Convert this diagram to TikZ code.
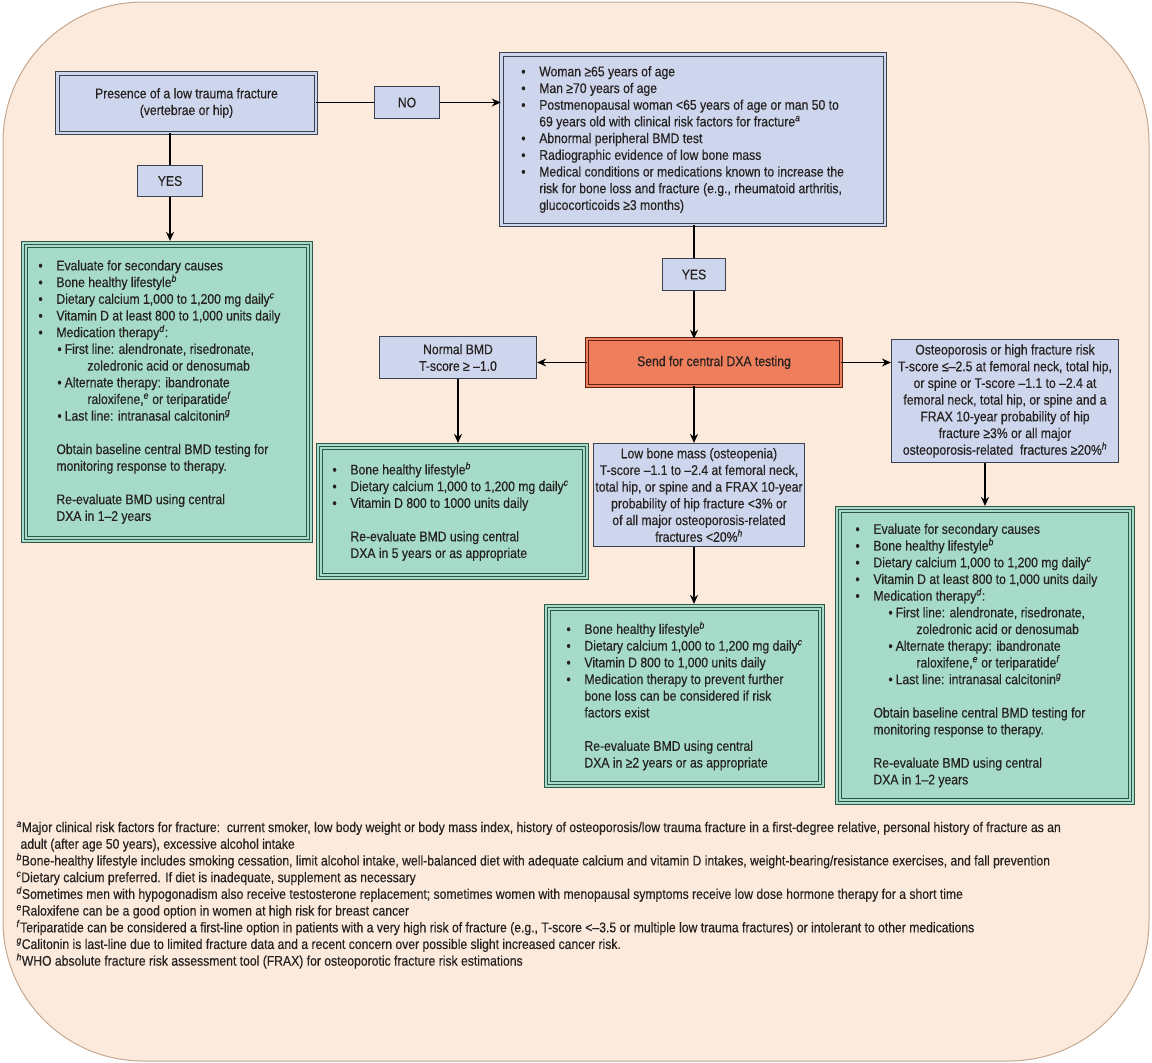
\documentclass[tikz,border=0pt]{standalone}
\usepackage{fontspec}
\setmainfont{Liberation Sans}[FakeStretch=0.87,FakeBold=0.4]
\usepackage{tikz}
\usetikzlibrary{arrows.meta}
\usetikzlibrary{positioning}
\definecolor{bgpeach}{HTML}{FCEADC}
\definecolor{bgline}{HTML}{C4A78E}
\definecolor{lavfill}{HTML}{CED6EE}
\definecolor{lavline}{HTML}{3C4150}
\definecolor{grnfill}{HTML}{A5DBC8}
\definecolor{grnline}{HTML}{2F5546}
\definecolor{dxafill}{HTML}{EF7E5C}
\definecolor{dxaline}{HTML}{5B2216}
\definecolor{ink}{HTML}{262220}
\newcommand \bul {\makebox[18pt][l]{\textbullet}}
\newcommand \ind {\hspace*{18pt}}
\newcommand \fn[1] {\textsuperscript{\textit{#1}}}
\tikzstyle{lav}=[rectangle,draw=lavline,fill=lavfill,inner sep=0mm,line width=1.2pt,align=center]
\tikzstyle{lavdbl}=[lav,double=lavfill,double distance=2.5pt,line width=1pt]
\tikzstyle{dxa}=[rectangle,draw=dxaline,fill=dxafill,inner sep=0mm,double=dxafill,double distance=2pt,line width=1pt,align=center]
\tikzstyle{grn}=[rectangle,draw=grnline,fill=grnfill,inner sep=0mm,line width=1.2pt]
\tikzstyle{grnin}=[draw=grnline,double=grnfill,double distance=1.6pt,line width=0.9pt]
\tikzstyle{txt}=[inner sep=0mm,align=left,anchor=west]
\tikzstyle{fnt}=[inner sep=0mm,align=left,anchor=north west,font=\fontsize{14}{16.7}\selectfont]
\tikzset{every picture/.style={
    line width=1.1pt
  },
  every node/.style={text=ink,font=\fontsize{14}{16.7}\selectfont},
  >={Stealth[length=9pt,width=8pt,inset=3pt]}
}

\begin{document}
\begin{tikzpicture}[x=1pt,y=-1pt]
      \useasboundingbox (0,0) rectangle (1152,1063);
      \draw[draw=bgline,fill=bgpeach,line width=1pt,rounded corners=140pt] (3,2) rectangle (1149,1061);
      % top row
      \node[lavdbl,minimum width=258.5pt,minimum height=59.5pt] at (186.5,103) (frac) {Presence of a low trauma fracture\\(vertebrae or hip)};
      \node[lav,minimum width=65pt,minimum height=32pt] at (407,102.5) (no) {NO};
      \node[lavdbl,minimum width=383.5pt,minimum height=170.5pt] at (693,139.5) (crit) {};
      \node[txt] at ([xshift=20pt]crit.west) (critt) {%
        \bul Woman ≥65 years of age\\
        \bul Man ≥70 years of age\\
        \bul Postmenopausal woman <65 years of age or man 50 to\\
        \ind 69 years old with clinical risk factors for fracture\fn{a}\\
        \bul Abnormal peripheral BMD test\\
        \bul Radiographic evidence of low bone mass\\
        \bul Medical conditions or medications known to increase the\\
        \ind risk for bone loss and fracture (e.g., rheumatoid arthritis,\\
        \ind glucocorticoids ≥3 months)};
      \node[lav,minimum width=65pt,minimum height=31pt] at (170,181) (yesA) {YES};
      \node[lav,minimum width=63pt,minimum height=32pt] at (694,274.5) (yesB) {YES};
      % DXA row
      \node[dxa,minimum width=253.5pt,minimum height=46.5pt] at (714,362.5) (dxa) {Send for central DXA testing};
      \node[lav,minimum width=157pt,minimum height=42pt] at (458,357.5) (norm) {Normal BMD\\T-score ≥ --1.0};
      \node[lav,minimum width=211pt,minimum height=103pt] at (699,495) (low) {Low bone mass (osteopenia)\\T-score --1.1 to --2.4 at femoral neck,\\total hip, or spine and a FRAX 10-year\\probability of hip fracture <3\% or\\of all major osteoporosis-related\\fractures <20\%\fn{h}};
      \node[lav,minimum width=227pt,minimum height=123pt] at (1005,401) (ost) {Osteoporosis or high fracture risk\\T-score ≤--2.5 at femoral neck, total hip,\\or spine or T-score --1.1 to --2.4 at\\femoral neck, total hip, or spine and a\\FRAX 10-year probability of hip\\fracture ≥3\% or all major\\osteoporosis-related\ \ fractures ≥20\%\fn{h}};
      % green boxes
      \node[grn,minimum width=291pt,minimum height=301pt] at (167,392) (gl) {};
      \node[grn,minimum width=272pt,minimum height=136pt] at (452.5,511.5) (gn) {};
      \node[grn,minimum width=280pt,minimum height=183pt] at (684.5,696) (go) {};
      \node[grn,minimum width=299pt,minimum height=298pt] at (985,655.5) (gh) {};
      \foreach \b in {gl,gn,go,gh}
        \draw[grnin] ([shift={(5,5)}]\b.north west) rectangle ([shift={(-5,-5)}]\b.south east);
      \node[txt] at ([xshift=17pt]gl.west) (glt) {%
        \bul Evaluate for secondary causes\\
        \bul Bone healthy lifestyle\fn{b}\\
        \bul Dietary calcium 1,000 to 1,200 mg daily\fn{c}\\
        \bul Vitamin D at least 800 to 1,000 units daily\\
        \bul Medication therapy\fn{d}:\\
        \ind\hspace*{1pt}\textbullet\hspace{3pt}First line: alendronate, risedronate,\\
        \ind\hspace*{31pt}zoledronic acid or denosumab\\
        \ind\hspace*{1pt}\textbullet\hspace{3pt}Alternate therapy: ibandronate\\
        \ind\hspace*{31pt}raloxifene,\fn{e} or teriparatide\fn{f}\\
        \ind\hspace*{1pt}\textbullet\hspace{3pt}Last line: intranasal calcitonin\fn{g}\\[16.7pt]
        \ind Obtain baseline central BMD testing for\\
        \ind monitoring response to therapy.\\[16.7pt]
        \ind Re-evaluate BMD using central\\
        \ind DXA in 1--2 years};
      \node[txt] at ([xshift=16pt]gn.west) (gnt) {%
        \bul Bone healthy lifestyle\fn{b}\\
        \bul Dietary calcium 1,000 to 1,200 mg daily\fn{c}\\
        \bul Vitamin D 800 to 1000 units daily\\[16.7pt]
        \ind Re-evaluate BMD using central\\
        \ind DXA in 5 years or as appropriate};
      \node[txt] at ([xshift=22pt]go.west) (got) {%
        \bul Bone healthy lifestyle\fn{b}\\
        \bul Dietary calcium 1,000 to 1,200 mg daily\fn{c}\\
        \bul Vitamin D 800 to 1,000 units daily\\
        \bul Medication therapy to prevent further\\
        \ind bone loss can be considered if risk\\
        \ind factors exist\\[16.7pt]
        \ind Re-evaluate BMD using central\\
        \ind DXA in ≥2 years or as appropriate};
      \node[txt] at ([xshift=20pt]gh.west) (ght) {%
        \bul Evaluate for secondary causes\\
        \bul Bone healthy lifestyle\fn{b}\\
        \bul Dietary calcium 1,000 to 1,200 mg daily\fn{c}\\
        \bul Vitamin D at least 800 to 1,000 units daily\\
        \bul Medication therapy\fn{d}:\\
        \ind\hspace*{15pt}\textbullet\hspace{3pt}First line: alendronate, risedronate,\\
        \ind\hspace*{43pt}zoledronic acid or denosumab\\
        \ind\hspace*{15pt}\textbullet\hspace{3pt}Alternate therapy: ibandronate\\
        \ind\hspace*{43pt}raloxifene,\fn{e} or teriparatide\fn{f}\\
        \ind\hspace*{15pt}\textbullet\hspace{3pt}Last line: intranasal calcitonin\fn{g}\\[16.7pt]
        \ind Obtain baseline central BMD testing for\\
        \ind monitoring response to therapy.\\[16.7pt]
        \ind Re-evaluate BMD using central\\
        \ind DXA in 1--2 years};
      % connectors
      \draw (no.west -| frac.east) -- (no.west);
      \draw[->] (no.east) -- (no.east -| crit.west);
      \draw (yesA.north |- frac.south) -- (yesA.north);
      \draw[->] (yesA.south) -- (yesA.south |- gl.north);
      \draw (yesB.north |- crit.south) -- (yesB.north);
      \draw[->] (yesB.south) -- (yesB.south |- dxa.north);
      \draw[->] (dxa.west) -- (dxa.west -| norm.east);
      \draw[->] (dxa.east) -- (dxa.east -| ost.west);
      \draw[->] (norm.south) -- (norm.south |- gn.north);
      \draw[->] (yesB.south |- dxa.south) -- (yesB.south |- low.north);
      \draw[->] (yesB.south |- low.south) -- (yesB.south |- go.north);
      \draw[->] (gh.north |- ost.south) -- (gh.north);
      % footnotes
      \node[fnt] at (16,821) (notes) {%
        \fn{a}Major clinical risk factors for fracture:\ \ current smoker, low body weight or body mass index, history of osteoporosis/low trauma fracture in a first-degree relative, personal history of fracture as an\\
        \hspace*{4pt}adult (after age 50 years), excessive alcohol intake\\
        \fn{b}Bone-healthy lifestyle includes smoking cessation, limit alcohol intake, well-balanced diet with adequate calcium and vitamin D intakes, weight-bearing/resistance exercises, and fall prevention\\
        \fn{c}Dietary calcium preferred. If diet is inadequate, supplement as necessary\\
        \fn{d}Sometimes men with hypogonadism also receive testosterone replacement; sometimes women with menopausal symptoms receive low dose hormone therapy for a short time\\
        \fn{e}Raloxifene can be a good option in women at high risk for breast cancer\\
        \fn{f}Teriparatide can be considered a first-line option in patients with a very high risk of fracture (e.g., T-score <--3.5 or multiple low trauma fractures) or intolerant to other medications\\
        \fn{g}Calitonin is last-line due to limited fracture data and a recent concern over possible slight increased cancer risk.\\
        \fn{h}WHO absolute fracture risk assessment tool (FRAX) for osteoporotic fracture risk estimations};
    \end{tikzpicture}
\end{document}
